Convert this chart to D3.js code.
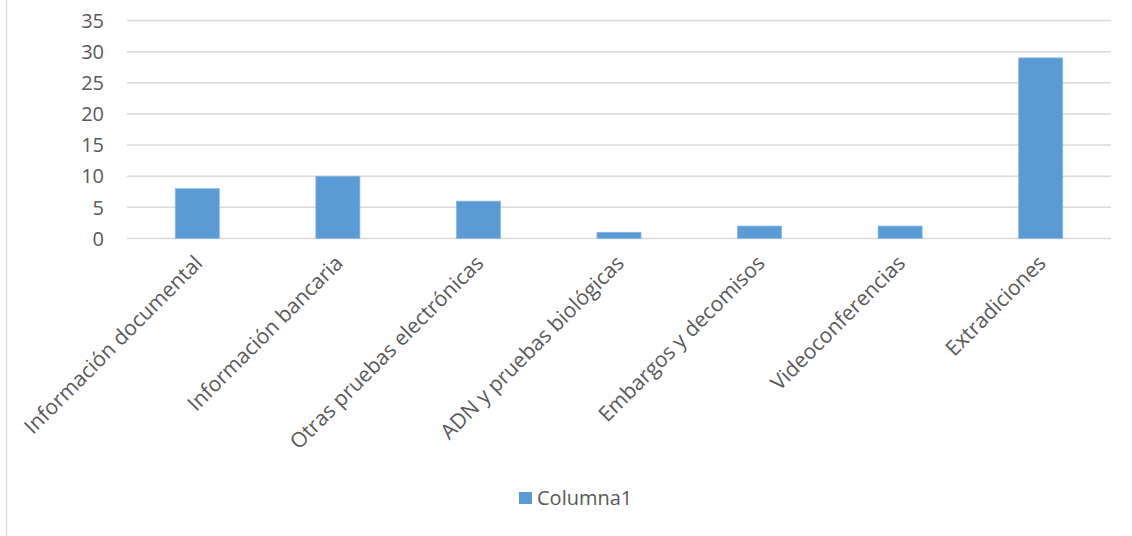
<!DOCTYPE html>
<html>
  <head>
    <meta charset="utf-8">
    <title>Columna1</title>
    <script src="https://cdn.jsdelivr.net/npm/d3@7"></script>
    <style>
      body { margin: 0; background: #fff; }
      text { font-family: "Open Sans", sans-serif; fill: #595959; }
    </style>
  </head>
  <body>
    <svg id="chart" width="1132" height="536"></svg>

    <script>
      // data
      categories = ["Información documental", "Información bancaria", "Otras pruebas electrónicas",
        "ADN y pruebas biológicas", "Embargos y decomisos", "Videoconferencias", "Extradiciones"];
      values = [8, 10, 6, 1, 2, 2, 29];
      yTicks = [0, 5, 10, 15, 20, 25, 30, 35];
      seriesName = "Columna1";

      svg = d3.select("#chart");
      barColour = "#5B9BD5";

      // frame line on the left
      svg.append("line")
        .attr("x1", 6.5).attr("x2", 6.5)
        .attr("y1", 0).attr("y2", 536)
        .attr("stroke", "#D9D9D9")
        .attr("stroke-width", 1.5);

      x = d3.scaleBand()
        .domain(categories)
        .range([127, 1111]);
      y = d3.scaleLinear()
        .domain([0, 35])
        .range([238.5, 20.5]);

      // gridlines
      svg.append("g")
        .selectAll("line")
        .data(yTicks)
        .join("line")
          .attr("x1", 127).attr("x2", 1111)
          .attr("y1", d => y(d)).attr("y2", d => y(d))
          .attr("stroke", "#D9D9D9")
          .attr("stroke-width", 1.5);

      // y tick labels
      svg.append("g")
        .selectAll("text")
        .data(yTicks)
        .join("text")
          .attr("x", 104)
          .attr("y", d => y(d))
          .attr("dy", "0.36em")
          .attr("text-anchor", "end")
          .style("font-size", "20px")
          .text(d => d);

      // bars (Excel gap width ~219%)
      barWidth = x.bandwidth() / 3.19;
      svg.append("g")
        .selectAll("rect")
        .data(values)
        .join("rect")
          .attr("x", (d, i) => x(categories[i]) + x.bandwidth() / 2 - barWidth / 2)
          .attr("y", d => y(d))
          .attr("width", barWidth)
          .attr("height", d => y(0) - y(d))
          .attr("fill", barColour)
          .attr("stroke", "#8DB8E3")
          .attr("stroke-width", 0.75);

      // category labels, rotated
      svg.append("g")
        .selectAll("text")
        .data(categories)
        .join("text")
          .attr("transform", d => "translate(" + (x(d) + x.bandwidth() / 2 - 4) + ",254) rotate(-45)")
          .attr("text-anchor", "end")
          .attr("dy", "0.7em")
          .style("font-size", "21px")
          .text(d => d);

      // legend
      legend = svg.append("g")
        .attr("transform", "translate(519,492)");
      legend.append("rect")
        .attr("width", 13)
        .attr("height", 12)
        .attr("fill", barColour);
      legend.append("text")
        .attr("x", 18)
        .attr("y", 13)
        .style("font-size", "20px")
        .text(seriesName);
    </script>
  </body>
</html>
